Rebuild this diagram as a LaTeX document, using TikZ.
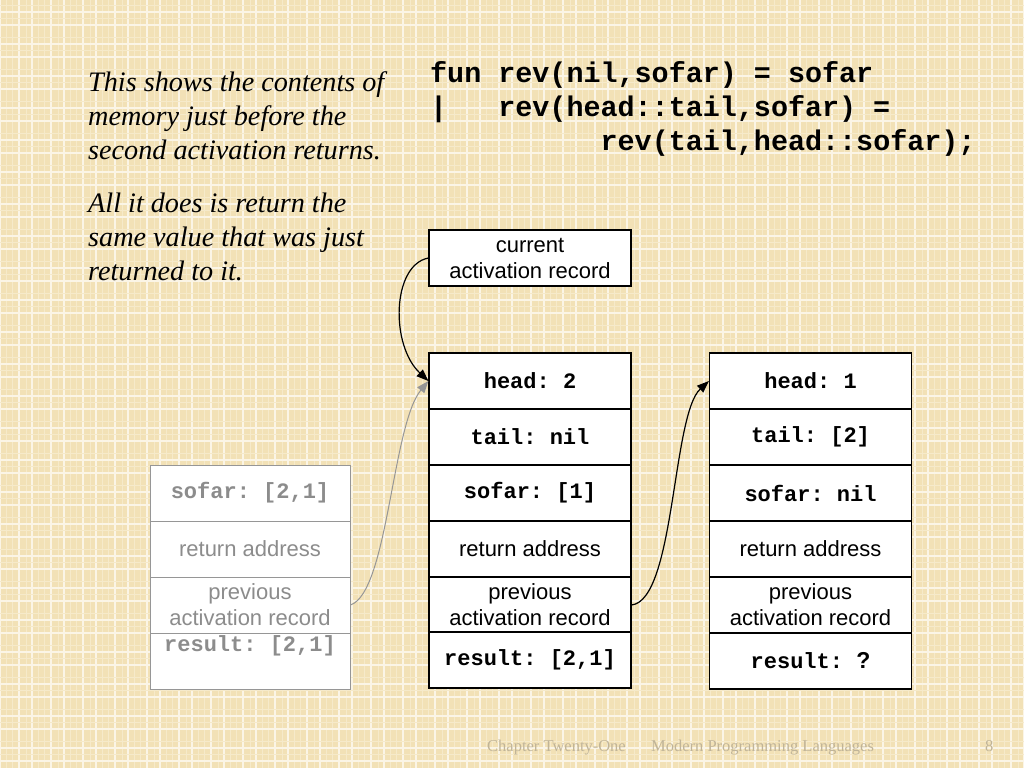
\documentclass[tikz,border=0pt]{standalone}
\usepackage{fontspec}
\setmainfont{Liberation Serif}
\newfontfamily\arialf{Liberation Sans}
\newfontfamily\courf{Liberation Mono}
\usetikzlibrary{arrows.meta}
\definecolor{bgc}{RGB}{242,225,182}
\definecolor{gridc}{RGB}{251,245,230}
\definecolor{finec}{RGB}{246,234,202}
\definecolor{grayc}{RGB}{150,150,150}
\definecolor{graytext}{RGB}{140,140,140}
\definecolor{footc}{RGB}{192,180,152}
\tikzset{
 cell/.style={draw=black,line width=1.2pt,fill=white,minimum width=202pt,minimum height=56pt,inner sep=0pt},
 gcell/.style={cell,draw=grayc,text=graytext,line width=1pt,minimum width=200pt},
 mono/.style={font=\courf\bfseries\frenchspacing\fontsize{22}{26}\selectfont},
 sans/.style={font=\arialf\fontsize{22}{26}\selectfont,align=center},
 code/.style={font=\courf\bfseries\frenchspacing\fontsize{28.4}{34}\selectfont,anchor=base west,inner sep=0pt},
 note/.style={font=\itshape\fontsize{28.2}{34}\selectfont,anchor=base west,inner sep=0pt},
 foot/.style={font=\fontsize{16.5}{20}\selectfont,text=footc,anchor=base west,inner sep=0pt},
 link/.style={line width=1.2pt,-{Triangle[length=12pt,width=9pt]}},
}
\begin{document}
\begin{tikzpicture}[x=1pt,y=-1pt]
\useasboundingbox (0,0) rectangle (1024,768);
\clip (0,0) rectangle (1024,768);
\fill[bgc] (0,0) rectangle (1024,768);
\foreach \k in {0,...,32}{
  \draw[finec,line width=0.8pt] (32*\k+6,0) -- (32*\k+6,768);
  \draw[finec,line width=0.8pt] (32*\k+12,0) -- (32*\k+12,768);
  \draw[finec,line width=0.8pt] (32*\k+26,0) -- (32*\k+26,768);
  \draw[gridc,line width=1.5pt] (32*\k,0) -- (32*\k,768);
  \draw[gridc,line width=1.5pt] (32*\k+19,0) -- (32*\k+19,768);
}
\foreach \k in {0,...,24}{
  \draw[finec,line width=0.8pt] (0,32*\k+5) -- (1024,32*\k+5);
  \draw[finec,line width=0.8pt] (0,32*\k+18) -- (1024,32*\k+18);
  \draw[gridc,line width=1.5pt] (0,32*\k+12) -- (1024,32*\k+12);
  \draw[gridc,line width=1.5pt] (0,32*\k+25) -- (1024,32*\k+25);
}
% notes
\node[note] (n1) at (88,91) {This shows the contents of};
\node[note] (n2) at (88,125) {memory just before the};
\node[note] (n3) at (88,159) {second activation returns.};
\node[note] (n4) at (88,212) {All it does is return the};
\node[note] (n5) at (88,246) {same value that was just};
\node[note] (n6) at (88,280) {returned to it.};
% code
\node[code] (c1) at (430,82) {fun rev(nil,sofar) = sofar};
\node[code] (c2) at (430,116) {|\ \ \ rev(head::tail,sofar) =};
\node[code] (c3) at (430,150) {\ \ \ \ \ \ \ \ \ \ rev(tail,head::sofar);};
% current box
\node[cell,sans] (cur) at (530,258) {current\\activation record};
% left (old) frame
\node[gcell,mono] (l3) at (250,493) {sofar: [2,1]};
\node[gcell,sans] (l4) at (250,549) {return address};
\node[gcell,sans] (l5) at (250,605) {previous\\activation record};
\node[gcell] (l6) at (250,661) {};
\node[mono,text=graytext,inner sep=0pt] (lres) at (250,646) {result: [2,1]};
% middle frame
\node[cell,mono] (m1) at (530,381) {head: 2};
\node[cell,mono] (m2) at (530,437) {tail: nil};
\node[cell,mono] (m3) at (530,493) {sofar: [1]};
\node[cell,sans] (m4) at (530,549) {return address};
\node[cell,sans] (m5) at (530,605) {previous\\activation record};
\node[cell,mono] (m6) at (530,660) {result: [2,1]};
% right frame
\node[cell,mono] (r1) at (810.5,381) {head: 1};
\node[cell,mono] (r2) at (810.5,437) {tail: [2]};
\node[cell,mono] (r3) at (810.5,493) {sofar: nil};
\node[cell,sans] (r4) at (810.5,549) {return address};
\node[cell,sans] (r5) at (810.5,605) {previous\\activation record};
\node[cell,mono] (r6) at (810.5,661) {result: {\arialf\bfseries\fontsize{23}{26}\selectfont ?}};
% links
\draw[link,grayc,line width=1pt] (l5.east) .. controls (388,592) and (392,425) .. (m1.west);
\draw[link] (cur.west) .. controls (392,265) and (390,345) .. (m1.west);
\draw[link] (m5.east) .. controls (675,600) and (672,415) .. (r1.west);
% footer
\node[foot] (f1) at (487,751) {Chapter Twenty-One};
\node[foot] (f2) at (651,751) {Modern Programming Languages};
\node[foot] (f3) at (985,751) {8};
\end{tikzpicture}
\end{document}
